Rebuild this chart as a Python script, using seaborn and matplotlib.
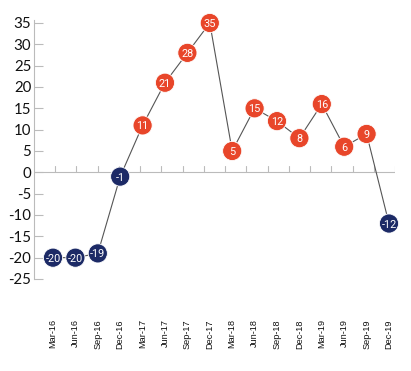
import matplotlib
matplotlib.use("Agg")
import matplotlib.pyplot as plt
import seaborn as sns
import pandas as pd
import numpy as np

quarters = ["Mar-16", "Jun-16", "Sep-16", "Dec-16", "Mar-17", "Jun-17", "Sep-17", "Dec-17",
            "Mar-18", "Jun-18", "Sep-18", "Dec-18", "Mar-19", "Jun-19", "Sep-19", "Dec-19"]
values = [-20, -20, -19, -1, 11, 21, 28, 35, 5, 15, 12, 8, 16, 6, 9, -12]
y_ticks = [-25, -20, -15, -10, -5, 0, 5, 10, 15, 20, 25, 30, 35]

ORANGE = "#E8462A"
NAVY = "#1C2A66"

sns.set_theme(style="white")
plt.rcParams["axes.unicode_minus"] = False

df = pd.DataFrame({"pos": np.arange(len(quarters)), "value": values, "quarter": quarters})
df["sign"] = np.where(df["value"] >= 0, "pos", "neg")

fig = plt.figure(figsize=(4.11, 3.71), dpi=100)
W, H = 411, 371
ax = fig.add_axes([34 / W, 1 - 279 / H, (395 - 34) / W, (279 - 20) / H])

sns.lineplot(data=df, x="pos", y="value", ax=ax, color="#555555", linewidth=0.8, zorder=2)
sns.scatterplot(data=df, x="pos", y="value", hue="sign", palette={"pos": ORANGE, "neg": NAVY},
                s=190, edgecolor="white", linewidth=0.6, legend=False, ax=ax, zorder=3,
                clip_on=False)

for x, v in zip(df["pos"], df["value"]):
    ax.text(x, v, str(v), color="white", fontsize=7.8, ha="center", va="center_baseline",
            family="Roboto", zorder=4, clip_on=False)

# axis limits (pixel-based mapping)
x0, dx = 53.0, 22.4
ax.set_xlim((34 - x0) / dx, (395 - x0) / dx)
ax.set_ylim(-25, 35 + 3 / (256 / 60))

# zero line with small upward ticks
ax.axhline(0, color="#BBBBBB", linewidth=0.8, zorder=1)
tick_px = 55 + 21.25 * np.arange(17)
for t in tick_px:
    ax.plot([(t - x0) / dx] * 2, [0, 1.4], color="#BBBBBB", linewidth=0.8, zorder=1)

for s in ["top", "right", "bottom"]:
    ax.spines[s].set_visible(False)
ax.spines["left"].set_color("#BBBBBB")
ax.spines["left"].set_linewidth(0.8)

ax.set_yticks(y_ticks)
ax.set_yticklabels([str(t) for t in y_ticks], family="Lato", fontsize=10.8, color="#111111")
ax.tick_params(axis="y", direction="in", length=6.5, width=0.8, color="#BBBBBB", pad=2, left=True)

ax.set_xticks(df["pos"])
ax.set_xticklabels(quarters, rotation=90, family="Liberation Sans", fontsize=6.6, color="#111111")
ax.tick_params(axis="x", length=0, pad=29)

ax.set_xlabel("")
ax.set_ylabel("")
ax.grid(False)

fig.savefig("out.png", dpi=100)
